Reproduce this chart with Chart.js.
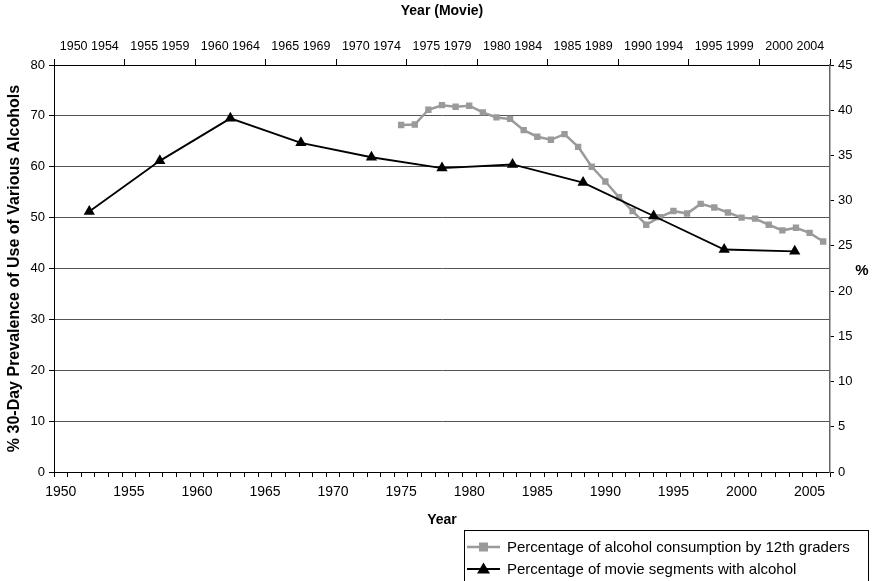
<!DOCTYPE html>
<html>
<head>
<meta charset="utf-8">
<script src="https://cdn.jsdelivr.net/npm/chart.js@4/dist/chart.umd.min.js"></script>
<style>
  html, body { margin: 0; padding: 0; background: #fff; }
  #wrap { width: 873px; height: 581px; }
</style>
</head>
<body>
<div id="wrap"><canvas id="c" width="873" height="581"></canvas></div>
<script>
// Year categories on the bottom axis (one slot per year)
const yearLabels = [];
for (let y = 1950; y <= 2006; y++) yearLabels.push(String(y));

// Five-year movie periods on the top axis
const moviePeriods = ['1950 1954', '1955 1959', '1960 1964', '1965 1969', '1970 1974',
  '1975 1979', '1980 1984', '1985 1989', '1990 1994', '1995 1999', '2000 2004'];

// 30-day alcohol use among 12th graders (left axis, %)
const studentYears = [1975, 1976, 1977, 1978, 1979, 1980, 1981, 1982, 1983, 1984, 1985,
  1986, 1987, 1988, 1989, 1990, 1991, 1992, 1993, 1994, 1995, 1996, 1997, 1998, 1999,
  2000, 2001, 2002, 2003, 2004, 2005, 2006];
const studentPct = [68.2, 68.3, 71.2, 72.1, 71.8, 72.0, 70.7, 69.7, 69.4, 67.2, 65.9,
  65.3, 66.4, 63.9, 60.0, 57.1, 54.0, 51.3, 48.6, 50.1, 51.3, 50.8, 52.7, 52.0, 51.0,
  50.0, 49.8, 48.6, 47.5, 48.0, 47.0, 45.3];

// Share of movie segments showing alcohol (right axis, %)
const moviePct = [28.8, 34.4, 39.1, 36.4, 34.8, 33.6, 34.0, 32.0, 28.3, 24.6, 24.4];

const FONT = 'Liberation Sans, Arial, Helvetica, sans-serif';

// Boxed legend under the plot, right aligned
const boxLegend = {
  id: 'boxLegend',
  afterDraw(chart) {
    const ctx = chart.ctx;
    const x0 = 464.5, y0 = 530.5, w = 404, h = 60;
    ctx.save();
    ctx.strokeStyle = '#000';
    ctx.lineWidth = 1;
    ctx.strokeRect(x0, y0, w, h);
    ctx.font = '15px ' + FONT;
    ctx.textBaseline = 'middle';
    ctx.fillStyle = '#000';
    chart.data.datasets.forEach((ds, i) => {
      const cy = 547 + i * 22;
      ctx.strokeStyle = ds.borderColor;
      ctx.lineWidth = ds.borderWidth;
      ctx.beginPath();
      ctx.moveTo(467, cy);
      ctx.lineTo(500, cy);
      ctx.stroke();
      ctx.fillStyle = ds.pointBackgroundColor;
      const cx = 483.5, r = ds.pointRadius;
      if (ds.pointStyle === 'rect') {
        ctx.fillRect(cx - r, cy - r, 2 * r, 2 * r);
      } else {
        ctx.beginPath();
        ctx.moveTo(cx, cy - r);
        ctx.lineTo(cx + r, cy + r * 0.7);
        ctx.lineTo(cx - r, cy + r * 0.7);
        ctx.closePath();
        ctx.fill();
      }
      ctx.fillStyle = '#000';
      ctx.textAlign = 'left';
      ctx.fillText(ds.label, 507, cy + 1);
    });
    ctx.restore();
  }
};

// Unrotated "%" title beside the right axis
const rightTitle = {
  id: 'rightTitle',
  afterDraw(chart) {
    const s = chart.scales.y2;
    const ctx = chart.ctx;
    ctx.save();
    ctx.font = 'bold 15px ' + FONT;
    ctx.fillStyle = '#000';
    ctx.textAlign = 'center';
    ctx.textBaseline = 'middle';
    ctx.fillText('%', s.right - 11, (s.top + s.bottom) / 2 + 2);
    ctx.restore();
  }
};

new Chart(document.getElementById('c'), {
  type: 'line',
  data: {
    labels: yearLabels,
    datasets: [
      {
        label: 'Percentage of alcohol consumption by 12th graders',
        data: studentYears.map((yr, i) => ({ x: String(yr), y: studentPct[i] })),
        xAxisID: 'x',
        yAxisID: 'y',
        borderColor: '#9a9a9a',
        backgroundColor: '#9a9a9a',
        pointBackgroundColor: '#9a9a9a',
        pointBorderColor: '#9a9a9a',
        borderWidth: 2.5,
        pointStyle: 'rect',
        pointRadius: 4.5,
        pointBorderWidth: 0,
        tension: 0,
        order: 2
      },
      {
        label: 'Percentage of movie segments with alcohol',
        data: moviePct,
        xAxisID: 'x2',
        yAxisID: 'y2',
        borderColor: '#000',
        backgroundColor: '#000',
        pointBackgroundColor: '#000',
        pointBorderColor: '#000',
        borderWidth: 1.8,
        pointStyle: 'triangle',
        pointRadius: 6.5,
        pointBorderWidth: 0,
        tension: 0,
        order: 1
      }
    ]
  },
  options: {
    responsive: false,
    animation: false,
    devicePixelRatio: 1,
    layout: { padding: { top: 0, left: 0, right: 0, bottom: 51 } },
    plugins: {
      legend: { display: false },
      tooltip: { enabled: false }
    },
    scales: {
      x: {
        type: 'category',
        position: 'bottom',
        offset: true,
        grid: { offset: true, drawOnChartArea: false, color: '#000', tickLength: 5 },
        border: { color: '#000', width: 1 },
        ticks: {
          autoSkip: false, maxRotation: 0, padding: 7, color: '#000',
          font: { family: FONT, size: 14 },
          callback(value) {
            const lbl = this.getLabelForValue(value);
            return Number(lbl) % 5 === 0 ? lbl : '';
          }
        },
        title: { display: true, text: 'Year', color: '#000',
          font: { family: FONT, size: 14, weight: 'bold' }, padding: { top: 0, bottom: 1 } },
        afterFit(s) { s.height = 58; }
      },
      x2: {
        type: 'category',
        position: 'top',
        labels: moviePeriods,
        offset: true,
        grid: { offset: true, drawOnChartArea: false, color: '#000', tickLength: 6 },
        border: { color: '#000', width: 1 },
        ticks: { autoSkip: false, maxRotation: 0, padding: 5, color: '#000',
          font: { family: FONT, size: 12.5 } },
        title: { display: true, text: 'Year (Movie)', color: '#000',
          font: { family: FONT, size: 14, weight: 'bold' }, padding: { top: 3, bottom: 0 } },
        afterFit(s) { s.height = 65; }
      },
      y: {
        position: 'left',
        min: 0, max: 80,
        ticks: { stepSize: 10, padding: 4, color: '#000', font: { family: FONT, size: 13 } },
        grid: { color: '#555', lineWidth: 1, tickLength: 5, tickColor: '#000' },
        border: { color: '#000', width: 1 },
        title: { display: true, text: '% 30-Day Prevalence of Use of Various Alcohols', color: '#000',
          font: { family: FONT, size: 16, weight: 'bold' }, padding: { top: 5, bottom: 0 } },
        afterFit(s) { s.width = 54; }
      },
      y2: {
        position: 'right',
        min: 0, max: 45,
        ticks: { stepSize: 5, padding: 4, color: '#000', font: { family: FONT, size: 13 } },
        grid: { drawOnChartArea: false, color: '#000', tickLength: 4 },
        border: { color: '#666', width: 1.5 },
        afterFit(s) { s.width = 43; }
      }
    }
  },
  plugins: [boxLegend, rightTitle]
});
</script>
</body>
</html>
